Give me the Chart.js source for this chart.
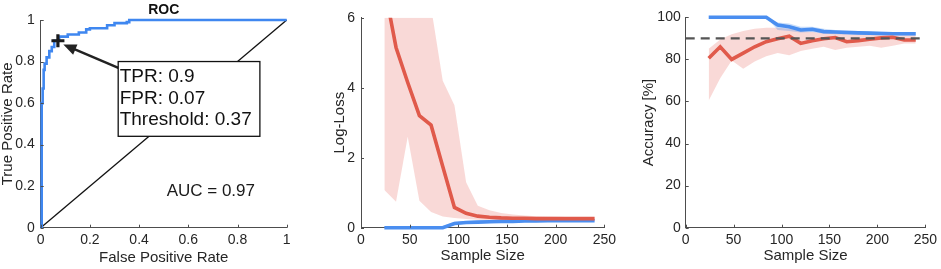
<!DOCTYPE html>
<html>
<head>
<meta charset="utf-8">
<script src="https://cdn.jsdelivr.net/npm/chart.js@4.4.1/dist/chart.umd.min.js"></script>
<style>
  html, body { margin: 0; padding: 0; background: #fff; }
  #wrap { position: relative; width: 941px; height: 269px; overflow: hidden; }
  canvas { position: absolute; top: 0; }
</style>
</head>
<body>
<div id="wrap">
  <canvas id="roc" width="300" height="269" style="left:0px"></canvas>
  <canvas id="loss" width="320" height="269" style="left:300px"></canvas>
  <canvas id="acc" width="321" height="269" style="left:620px"></canvas>
</div>
<script>
// ROC curve (step corners)
const rocFpr = [0, 0.004, 0.008, 0.012, 0.016, 0.024, 0.035, 0.045, 0.055, 0.075, 0.11, 0.155, 0.185, 0.2, 0.27, 0.3, 0.35, 0.36, 1];
const rocTpr = [0, 0.6, 0.67, 0.76, 0.79, 0.82, 0.85, 0.87, 0.9, 0.92, 0.93, 0.94, 0.955, 0.96, 0.975, 0.985, 0.99, 1, 1];
const markerFpr = 0.07;
const markerTpr = 0.9;
const markerThreshold = 0.37;
const auc = 0.97;

const unitTicks = [0, 0.2, 0.4, 0.6, 0.8, 1];
const sizeTicks = [0, 50, 100, 150, 200, 250];
const lossTicks = [0, 2, 4, 6];
const accTicks = [0, 20, 40, 60, 80, 100];

const sampleSize = [24, 36, 48, 60, 72, 84, 96, 108, 120, 132, 144, 156, 168, 180, 192, 204, 216, 228, 240];

// log-loss
const lossRed = [6.9, 5.15, 4.15, 3.2, 2.93, 1.75, 0.58, 0.41, 0.33, 0.3, 0.28, 0.27, 0.27, 0.26, 0.26, 0.26, 0.26, 0.26, 0.26];
const lossRedHi = [9, 9, 9, 9, 6.3, 4.2, 3.5, 1.3, 0.63, 0.5, 0.42, 0.38, 0.35, 0.33, 0.32, 0.31, 0.3, 0.3, 0.29];
const lossRedLo = [1.08, 0.74, 2.6, 0.77, 0.45, 0.32, 0.28, 0.25, 0.23, 0.22, 0.21, 0.21, 0.2, 0.2, 0.2, 0.2, 0.2, 0.2, 0.2];
const lossBlue = [0, 0, 0, 0, 0, 0, 0.12, 0.15, 0.16, 0.17, 0.18, 0.18, 0.19, 0.19, 0.2, 0.2, 0.2, 0.2, 0.2];
const lossBlueHi = [0.02, 0.02, 0.02, 0.02, 0.02, 0.05, 0.17, 0.19, 0.2, 0.21, 0.21, 0.22, 0.22, 0.23, 0.23, 0.23, 0.23, 0.23, 0.23];
const lossBlueLo = [0, 0, 0, 0, 0, 0, 0.08, 0.11, 0.12, 0.13, 0.15, 0.15, 0.16, 0.16, 0.17, 0.17, 0.17, 0.17, 0.17];

// accuracy [%]
const accRed = [80.5, 86, 80, 83, 86, 88.4, 89.8, 91, 87.6, 88.9, 89.8, 90.4, 88.4, 88.9, 89.6, 90.2, 90.5, 89.2, 89.2];
const accRedHi = [85, 89.5, 92, 93.5, 94.5, 95, 95, 94.5, 93.5, 93, 92.5, 92.5, 92, 92, 92, 91.8, 91.5, 91.5, 91.5];
const accRedLo = [60.5, 71, 79.5, 75.5, 79, 81.5, 83, 82, 84, 85, 86, 84.5, 85.5, 86, 86.5, 85.5, 86.5, 87.5, 87.5];
const accBlue = [100, 100, 100, 100, 100, 100, 96.3, 95.5, 94, 94.3, 93.2, 93, 92.8, 92.6, 92.5, 92.3, 92.2, 92.2, 92.2];
const accBlueHi = [100, 100, 100, 100, 100, 100, 97.5, 97, 95.5, 95.5, 94.5, 94, 93.8, 93.5, 93.3, 93.2, 93, 93, 93];
const accBlueLo = [100, 100, 100, 100, 100, 100, 94, 93.5, 92.8, 93, 92.2, 92, 91.8, 91.7, 91.6, 91.5, 91.5, 91.4, 91.3];
const targetAcc = 90;
const targetRange = [0, 250];

const FONT = "'Liberation Sans', Arial, Helvetica, sans-serif";
const INK = '#262626';
const RED = '#e05a4b';
const BLUE = '#4a8ef0';

Chart.defaults.font.family = FONT;
Chart.defaults.color = INK;

const pts = (ys) => sampleSize.map((x, i) => ({ x: x, y: ys[i] }));

function axis(o) {
  return {
    type: 'linear',
    min: o.ticks[0],
    max: o.ticks[o.ticks.length - 1],
    afterBuildTicks: s => { s.ticks = o.ticks.map(v => ({ value: v })); },
    afterFit: s => { if (s.isHorizontal()) s.height = o.size; else s.width = o.size; },
    grid: { display: false, drawTicks: false },
    border: { display: true, color: '#4d4d4d', width: 1 },
    ticks: { color: INK, font: { size: 14 }, padding: o.pad, callback: v => String(v) },
    title: {
      display: true, text: o.title, color: INK,
      font: { size: 15, lineHeight: 1 },
      padding: { top: o.titlePad || 0, bottom: o.titlePad || 0 }
    }
  };
}

// small inward tick marks, matlab style
const innerTicks = {
  id: 'innerTicks',
  afterDraw(chart) {
    const { ctx, chartArea: a } = chart;
    const x = chart.scales.x, y = chart.scales.y;
    ctx.save();
    ctx.strokeStyle = '#4d4d4d';
    ctx.lineWidth = 1;
    ctx.beginPath();
    x.ticks.forEach(t => {
      const px = Math.round(x.getPixelForValue(t.value)) + 0.5;
      ctx.moveTo(px, a.bottom); ctx.lineTo(px, a.bottom - 3);
    });
    y.ticks.forEach(t => {
      const py = Math.round(y.getPixelForValue(t.value)) + 0.5;
      ctx.moveTo(a.left, py); ctx.lineTo(a.left + 3, py);
    });
    ctx.stroke();
    ctx.restore();
  }
};

// data tip box with arrow + AUC text
const rocNote = {
  id: 'rocNote',
  afterDatasetsDraw(chart) {
    const { ctx, scales: { x, y } } = chart;
    const X = v => x.getPixelForValue(v), Y = v => y.getPixelForValue(v);
    ctx.save();

    // arrow
    const tx = X(0.318), ty = Y(0.768);
    const hx = X(0.092), hy = Y(0.882);
    const ang = Math.atan2(hy - ty, hx - tx);
    ctx.strokeStyle = '#222';
    ctx.fillStyle = '#222';
    ctx.lineWidth = 2.5;
    ctx.beginPath();
    ctx.moveTo(tx, ty);
    ctx.lineTo(hx - 10 * Math.cos(ang), hy - 10 * Math.sin(ang));
    ctx.stroke();
    ctx.beginPath();
    ctx.moveTo(hx, hy);
    ctx.lineTo(hx - 13 * Math.cos(ang) + 5.5 * Math.sin(ang), hy - 13 * Math.sin(ang) - 5.5 * Math.cos(ang));
    ctx.lineTo(hx - 13 * Math.cos(ang) - 5.5 * Math.sin(ang), hy - 13 * Math.sin(ang) + 5.5 * Math.cos(ang));
    ctx.closePath();
    ctx.fill();

    // box
    const bl = X(0.315), bt = Y(0.8), br = X(0.891), bb = Y(0.44);
    ctx.fillStyle = '#fff';
    ctx.fillRect(bl, bt, br - bl, bb - bt);
    ctx.strokeStyle = '#111';
    ctx.lineWidth = 1.3;
    ctx.strokeRect(bl, bt, br - bl, bb - bt);

    ctx.fillStyle = '#111';
    ctx.font = '19px ' + FONT;
    ctx.textAlign = 'left';
    ctx.textBaseline = 'middle';
    ctx.fillText('TPR: ' + markerTpr, bl + 1.5, bt + 15);
    ctx.fillText('FPR: ' + markerFpr, bl + 1.5, bt + 37);
    ctx.fillText('Threshold: ' + markerThreshold, bl + 1.5, bt + 58);

    ctx.font = '17px ' + FONT;
    ctx.fillStyle = '#1a1a1a';
    ctx.fillText('AUC = ' + auc, X(0.512), Y(0.177));
    ctx.restore();
  }
};

const base = {
  responsive: false,
  animation: false,
  events: [],
  elements: { point: { radius: 0 }, line: { tension: 0 } }
};

new Chart(document.getElementById('roc'), {
  type: 'line',
  data: {
    datasets: [
      {
        type: 'scatter', data: [{ x: markerFpr, y: markerTpr }],
        pointStyle: 'cross', pointRadius: 6.5, pointBorderWidth: 3.2,
        pointBorderColor: '#1a1a1a', clip: false
      },
      {
        data: rocFpr.map((x, i) => ({ x: x, y: rocTpr[i] })),
        borderColor: '#3f87f0', borderWidth: 2.6, stepped: 'before', clip: 4
      },
      {
        data: [{ x: 0, y: 0 }, { x: 1, y: 1 }],
        borderColor: '#111', borderWidth: 1.3, clip: 2
      }
    ]
  },
  options: Object.assign({}, base, {
    layout: { padding: { left: 0, right: 13.3, top: 0, bottom: 0 } },
    plugins: {
      legend: { display: false },
      tooltip: { enabled: false },
      title: {
        display: true, text: 'ROC', fullSize: false, color: '#111',
        font: { size: 14, weight: 'bold', lineHeight: 1.2 },
        padding: { top: 2, bottom: 1.2 }
      }
    },
    scales: {
      x: axis({ ticks: unitTicks, size: 41.3, pad: 4, title: 'False Positive Rate', titlePad: 3.5 }),
      y: axis({ ticks: unitTicks, size: 40.7, pad: 6, title: 'True Positive Rate', titlePad: 0 })
    }
  }),
  plugins: [innerTicks, rocNote]
});

const band = (hi, lo, color, loIndex) => ([
  { data: pts(hi), borderWidth: 0, fill: loIndex, backgroundColor: color },
  { data: pts(lo), borderWidth: 0, fill: false }
]);

new Chart(document.getElementById('loss'), {
  type: 'line',
  data: {
    datasets: [
      { data: pts(lossRed), borderColor: RED, borderWidth: 3.6, clip: { top: 0, left: 5, right: 5, bottom: 5 } },
      { data: pts(lossBlue), borderColor: BLUE, borderWidth: 3.6, clip: { top: 0, left: 5, right: 5, bottom: 5 } },
      ...band(lossBlueHi, lossBlueLo, 'rgba(74,142,240,0.3)', 3),
      ...band(lossRedHi, lossRedLo, 'rgba(232,96,86,0.24)', 5)
    ]
  },
  options: Object.assign({}, base, {
    layout: { padding: { left: 32, right: 13.3, top: 17.7, bottom: 0 } },
    plugins: { legend: { display: false }, tooltip: { enabled: false } },
    scales: {
      x: axis({ ticks: sizeTicks, size: 41.3, pad: 4, title: 'Sample Size', titlePad: 5.5 }),
      y: axis({ ticks: lossTicks, size: 29, pad: 6, title: 'Log-Loss', titlePad: 0 })
    }
  }),
  plugins: [innerTicks]
});

new Chart(document.getElementById('acc'), {
  type: 'line',
  data: {
    datasets: [
      {
        data: targetRange.map(x => ({ x: x, y: targetAcc })),
        borderColor: '#555', borderWidth: 2.4, borderDash: [9, 6], clip: false
      },
      { data: pts(accRed), borderColor: RED, borderWidth: 3.6, clip: 5 },
      { data: pts(accBlue), borderColor: BLUE, borderWidth: 3.6, clip: 5 },
      ...band(accBlueHi, accBlueLo, 'rgba(74,142,240,0.3)', 4),
      ...band(accRedHi, accRedLo, 'rgba(232,96,86,0.24)', 6)
    ]
  },
  options: Object.assign({}, base, {
    layout: { padding: { left: 21.5, right: 13.7, top: 17.3, bottom: 0 } },
    plugins: { legend: { display: false }, tooltip: { enabled: false } },
    scales: {
      x: axis({ ticks: sizeTicks, size: 41.3, pad: 4, title: 'Sample Size', titlePad: 5.5 }),
      y: axis({ ticks: accTicks, size: 44.2, pad: 5, title: 'Accuracy [%]', titlePad: 0 })
    }
  }),
  plugins: [innerTicks]
});
</script>
</body>
</html>
